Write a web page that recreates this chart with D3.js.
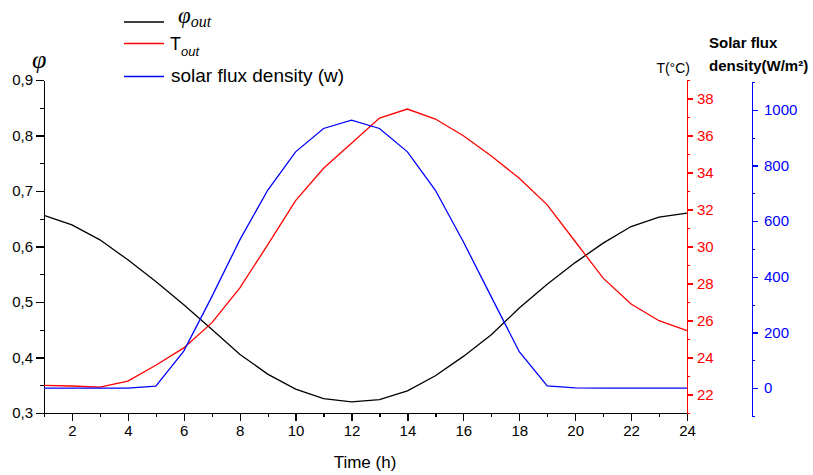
<!DOCTYPE html>
<html>
<head>
<meta charset="utf-8">
<script src="https://cdn.jsdelivr.net/npm/d3@7"></script>
<style>
  body { margin: 0; background: #fff; }
  svg { font-family: "Liberation Sans", Arial, sans-serif; }
  .axis path, .axis line { shape-rendering: crispEdges; }
</style>
</head>
<body>
<svg id="chart" width="813" height="475"></svg>
<script>
// hours of the day
const hours = d3.range(1, 25);
// relative humidity phi_out
const phiOut = [0.656, 0.639, 0.612, 0.576, 0.537, 0.495, 0.451, 0.406, 0.370, 0.343, 0.326, 0.320,
                0.324, 0.340, 0.367, 0.402, 0.441, 0.489, 0.532, 0.571, 0.606, 0.636, 0.653, 0.660];
// outdoor temperature (°C)
const tOut = [22.49, 22.46, 22.40, 22.72, 23.58, 24.52, 25.87, 27.75, 30.09, 32.48, 34.23, 35.58,
              36.94, 37.43, 36.89, 35.99, 34.89, 33.69, 32.25, 30.27, 28.29, 26.89, 25.99, 25.45];
// solar flux density (W/m²)
const solar = [0, 0, 0, 0, 7, 133, 328, 532, 711, 849, 933, 963,
               933, 849, 711, 526, 328, 131, 8, 1, 0, 0, 0, 0];

const xTicksMajor = d3.range(2, 25, 2);
const xTicksMinor = d3.range(1, 24, 2);
const phiTicks = [0.3, 0.4, 0.5, 0.6, 0.7, 0.8, 0.9];
const tTicks = [22, 24, 26, 28, 30, 32, 34, 36, 38];
const sTicks = [0, 200, 400, 600, 800, 1000];

const svg = d3.select("#chart");

const x = d3.scaleLinear().domain([1, 24]).range([44, 687]);
const yPhi = d3.scaleLinear().domain([0.3, 0.9]).range([413, 80]);
const yT = d3.scaleLinear().domain([21, 39]).range([413, 80]);
const yS = d3.scaleLinear().domain([-100, 1100]).range([416, 82]);

const comma = d => d3.format(".1f")(d).replace(".", ",");

function styleAxis(g, color, size) {
  g.attr("class", "axis");
  g.selectAll("path").attr("stroke", color).attr("stroke-width", 1.6);
  g.selectAll("line").attr("stroke", color).attr("stroke-width", 1.3);
  g.selectAll("text").attr("fill", color).style("font-size", size + "px")
    .style("font-family", "Liberation Sans, Arial, sans-serif");
}

// x axis
svg.append("g").attr("transform", "translate(0,413)")
  .call(d3.axisBottom(x).tickValues(xTicksMinor).tickSize(4).tickFormat("").tickSizeOuter(0))
  .call(g => styleAxis(g, "#000", 14));
svg.append("g").attr("transform", "translate(0,413)")
  .call(d3.axisBottom(x).tickValues(xTicksMajor).tickSize(8).tickPadding(4).tickSizeOuter(0))
  .call(g => styleAxis(g, "#000", 15));

// left axis (phi)
svg.append("g").attr("transform", "translate(44,0)")
  .call(d3.axisLeft(yPhi).tickValues(d3.range(0.35, 0.9, 0.1)).tickSize(4).tickFormat("").tickSizeOuter(0))
  .call(g => styleAxis(g, "#000", 14));
svg.append("g").attr("transform", "translate(44,0)")
  .call(d3.axisLeft(yPhi).tickValues(phiTicks).tickSize(8).tickPadding(3).tickFormat(comma).tickSizeOuter(0))
  .call(g => styleAxis(g, "#000", 15));

// right axis (temperature)
svg.append("g").attr("transform", "translate(687,0)")
  .call(d3.axisRight(yT).tickValues(d3.range(21, 40, 2)).tickSize(3).tickFormat("").tickSizeOuter(0))
  .call(g => styleAxis(g, "#ff0000", 14));
svg.append("g").attr("transform", "translate(687,0)")
  .call(d3.axisRight(yT).tickValues(tTicks).tickSize(6).tickPadding(4).tickSizeOuter(0))
  .call(g => styleAxis(g, "#ff0000", 15));

// far right axis (solar flux)
svg.append("g").attr("transform", "translate(752,0)")
  .call(d3.axisRight(yS).tickValues(d3.range(-100, 1101, 200)).tickSize(3).tickFormat("").tickSizeOuter(0))
  .call(g => styleAxis(g, "#0000ff", 14));
svg.append("g").attr("transform", "translate(752,0)")
  .call(d3.axisRight(yS).tickValues(sTicks).tickSize(6).tickPadding(6).tickFormat(d3.format("d")).tickSizeOuter(0))
  .call(g => styleAxis(g, "#0000ff", 15));

// lines
const series = [
  { vals: phiOut, y: yPhi, color: "#000000" },
  { vals: tOut, y: yT, color: "#ff0000" },
  { vals: solar, y: yS, color: "#0000ff" }
];
series.forEach(s => {
  svg.append("path")
    .datum(hours)
    .attr("fill", "none")
    .attr("stroke", s.color)
    .attr("stroke-width", 1.3)
    .attr("d", d3.line().x(h => x(h)).y((h, i) => s.y(s.vals[i])));
});

// axis titles
svg.append("text").attr("x", 32).attr("y", 68)
  .style("font-family", "Liberation Serif, serif").style("font-style", "italic")
  .style("font-size", "26px").text("φ");

svg.append("text").attr("x", 365).attr("y", 468).attr("text-anchor", "middle")
  .style("font-size", "17px").text("Time (h)");

svg.append("text").attr("x", 690).attr("y", 73).attr("text-anchor", "end")
  .style("font-size", "14px").text("T(°C)");

svg.append("text").attr("x", 709).attr("y", 48)
  .style("font-size", "15px").style("font-weight", "bold").text("Solar flux");
svg.append("text").attr("x", 709).attr("y", 71)
  .style("font-size", "15px").style("font-weight", "bold").text("density(W/m²)");

// legend
const legend = svg.append("g");
const legendRows = [
  { color: "#000000", y: 22 },
  { color: "#ff0000", y: 43.5 },
  { color: "#0000ff", y: 76.5 }
];
legendRows.forEach(r => {
  legend.append("line").attr("x1", 124).attr("x2", 164)
    .attr("y1", r.y).attr("y2", r.y)
    .attr("stroke", r.color).attr("stroke-width", 1.3);
});

const l1 = legend.append("text").attr("x", 178).attr("y", 23)
  .style("font-family", "Liberation Serif, serif").style("font-style", "italic");
l1.append("tspan").style("font-size", "23px").text("φ");
l1.append("tspan").attr("dy", 4).style("font-size", "16px").text("out");

const l2 = legend.append("text").attr("x", 170).attr("y", 50).style("font-size", "18px");
l2.append("tspan").text("T");
l2.append("tspan").attr("dy", 6).style("font-size", "13px").style("font-style", "italic").text("out");

legend.append("text").attr("x", 171).attr("y", 82).style("font-size", "19px")
  .text("solar flux density (w)");
</script>
</body>
</html>
